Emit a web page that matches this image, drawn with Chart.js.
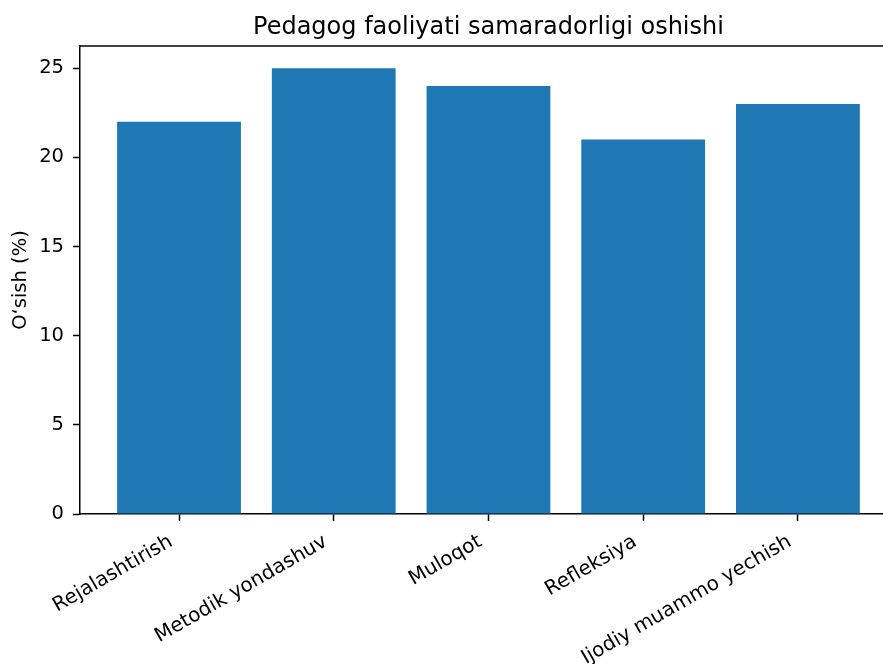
<!DOCTYPE html>
<html>
<head>
<meta charset="utf-8">
<script src="https://cdn.jsdelivr.net/npm/chart.js@4.4.1/dist/chart.umd.min.js"></script>
<style>
  html, body { margin: 0; padding: 0; background: #fff; overflow: hidden; }
  canvas { display: block; }
</style>
</head>
<body>
<canvas id="c" width="883" height="664"></canvas>
<script>
const chartTitle = "Pedagog faoliyati samaradorligi oshishi";
const yAxisTitle = "O\u2018sish (%)";
const categories = ["Rejalashtirish", "Metodik yondashuv", "Muloqot", "Refleksiya", "Ijodiy muammo yechish"];
const values = [22, 25, 24, 21, 23];
const yTickValues = [0, 5, 10, 15, 20, 25];

const FONT = "'DejaVu Sans', sans-serif";

// axes span in data units (matplotlib-style margins); part of the right side lies outside the picture
const X_MIN = -0.64, X_FULL_MAX = 4.64, X_VISIBLE_MAX = 4.55;

const spinesAndTitle = {
  id: 'spinesAndTitle',
  afterLayout(chart) {
    const xs = chart.scales.x;
    const tb = chart.titleBlock;
    if (tb) {
      tb.left = xs.getPixelForValue(X_MIN);
      tb.right = xs.getPixelForValue(X_FULL_MAX);
    }
  },
  afterDraw(chart) {
    const a = chart.chartArea, ctx = chart.ctx;
    ctx.save();
    ctx.strokeStyle = '#000';
    ctx.lineWidth = 1.5;
    ctx.beginPath();
    ctx.moveTo(a.left, a.top);
    ctx.lineTo(a.right, a.top);
    ctx.stroke();
    ctx.restore();
  }
};

new Chart(document.getElementById('c'), {
  type: 'bar',
  data: {
    datasets: [{
      data: categories.map((c, i) => ({ x: i, y: values[i] })),
      backgroundColor: '#1f77b4',
      borderWidth: 0,
      barPercentage: 0.8,
      categoryPercentage: 1.0
    }]
  },
  plugins: [spinesAndTitle],
  options: {
    responsive: false,
    animation: false,
    layout: { padding: 0 },
    plugins: {
      legend: { display: false },
      tooltip: { enabled: false },
      title: {
        display: true,
        text: chartTitle,
        color: '#000',
        font: { family: FONT, size: 24, weight: 'normal' },
        padding: { top: 12.9, bottom: 4.3 }
      }
    },
    scales: {
      x: {
        type: 'linear',
        offset: false,
        min: X_MIN,
        max: X_VISIBLE_MAX,
        afterBuildTicks: (s) => { s.ticks = categories.map((c, i) => ({ value: i })); },
        afterFit: (s) => { s.height = 150; },
        grid: { display: true, offset: false, drawOnChartArea: false, drawTicks: true, tickLength: 7, tickColor: '#000', tickWidth: 1.5 },
        border: { display: true, color: '#000', width: 1.5 },
        ticks: {
          autoSkip: false,
          minRotation: 30,
          maxRotation: 30,
          padding: 9,
          labelOffset: -8,
          color: '#000',
          font: { family: FONT, size: 20 },
          callback: (v) => categories[v]
        }
      },
      y: {
        min: 0,
        max: 26.25,
        afterBuildTicks: (s) => { s.ticks = yTickValues.map(v => ({ value: v })); },
        afterFit: (s) => { s.width = 80; },
        grid: { display: true, drawOnChartArea: false, drawTicks: true, tickLength: 7, tickColor: '#000', tickWidth: 1.5 },
        border: { display: true, color: '#000', width: 1.5 },
        ticks: {
          padding: 9,
          color: '#000',
          font: { family: FONT, size: 19.5 }
        },
        title: {
          display: true,
          text: yAxisTitle,
          color: '#000',
          font: { family: FONT, size: 19.5 },
          padding: { top: 9, bottom: 0 }
        }
      }
    }
  }
});
</script>
</body>
</html>
